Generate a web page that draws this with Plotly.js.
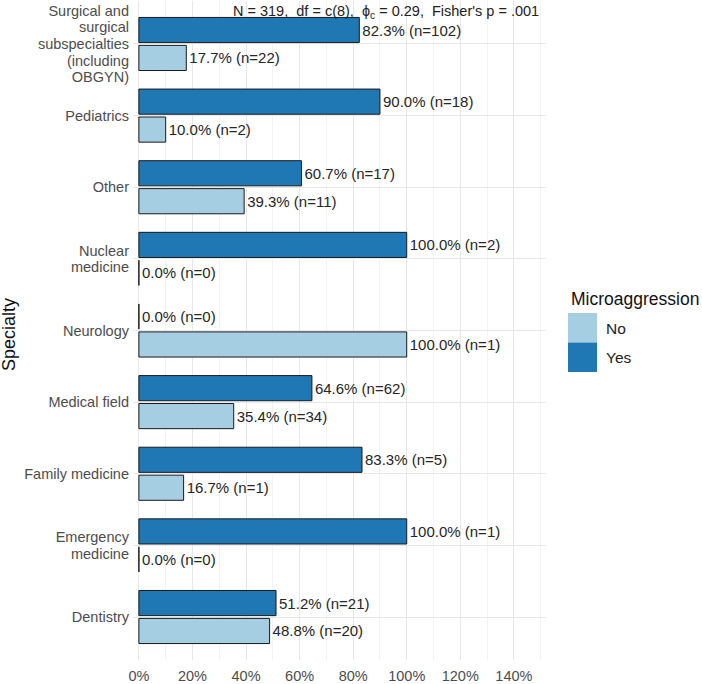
<!DOCTYPE html>
<html>
<head>
<meta charset="utf-8">
<script src="https://cdn.plot.ly/plotly-3.0.1.min.js"></script>
<style>html,body{margin:0;padding:0;background:#fff;}#chart{width:702px;height:684px;}</style>
</head>
<body>
<div id="chart"></div>
<script>
const specialties = [
  "Dentistry",
  "Emergency<br>medicine",
  "Family medicine",
  "Medical field",
  "Neurology",
  "Nuclear<br>medicine",
  "Other",
  "Pediatrics",
  "Surgical and<br>surgical<br>subspecialties<br>(including<br>OBGYN)"
];
const pctYes = [51.2, 100.0, 83.3, 64.6, 0.0, 100.0, 60.7, 90.0, 82.3];
const nYes   = [21, 1, 5, 62, 0, 2, 17, 18, 102];
const pctNo  = [48.8, 0.0, 16.7, 35.4, 100.0, 0.0, 39.3, 10.0, 17.7];
const nNo    = [20, 0, 1, 34, 1, 0, 11, 2, 22];
const groups = ["No", "Yes"];
const colors = {No: "#a6cee3", Yes: "#1f78b4"};
const xTicks = [0, 20, 40, 60, 80, 100, 120, 140];
const subtitle = "N = 319,  df = c(8),  ϕ<sub>c</sub> = 0.29,  Fisher's p = .001";

const FONT = "Liberation Sans, Arial, sans-serif";
const W = 702, H = 684;
const M = {l: 133, r: 156, t: 1, b: 24};
const PW = W - M.l - M.r, PH = H - M.t - M.b;
const px = p => (p - M.l) / PW;          // pixel x -> paper x
const py = p => (H - M.b - p) / PH;      // pixel y -> paper y

function labels(p, n) { return p.map((v, i) => v.toFixed(1) + "% (n=" + n[i] + ")"); }

const mk = (name, pct, n) => ({
  type: "bar", orientation: "h", name: name, showlegend: false,
  x: pct, y: specialties,
  text: labels(pct, n), textposition: "outside", cliponaxis: false,
  constraintext: "none",
  textfont: {family: FONT, size: 15, color: "#262626"},
  marker: {color: colors[name], line: {color: "#1a1a1a", width: 1}},
  hoverinfo: "skip"
});

const data = [mk("No", pctNo, nNo), mk("Yes", pctYes, nYes)];

// legend (drawn as key boxes + labels)
const shapes = [], annotations = [];
groups.forEach((g, i) => {
  const top = 313 + i * 29.5;
  shapes.push({type: "rect", xref: "paper", yref: "paper",
    x0: px(568), x1: px(597), y0: py(top + 29.5), y1: py(top),
    fillcolor: colors[g], line: {width: 0}, layer: "above"});
  annotations.push({xref: "paper", yref: "paper", x: px(604), y: py(top + 15),
    xanchor: "left", yanchor: "middle", showarrow: false, text: g,
    font: {family: FONT, size: 15.5, color: "#222"}});
});
annotations.push({xref: "paper", yref: "paper", x: px(569), y: py(299),
  xanchor: "left", yanchor: "middle", showarrow: false, text: "Microaggression",
  font: {family: FONT, size: 17.5, color: "#111"}});
annotations.push({xref: "paper", yref: "paper", x: px(9), y: py(334),
  xanchor: "center", yanchor: "middle", textangle: -90, showarrow: false, text: "Specialty",
  font: {family: FONT, size: 18, color: "#111"}});
annotations.push({xref: "paper", yref: "paper", x: 1, y: 1, xanchor: "right", yanchor: "top",
  xshift: -5, yshift: 0, showarrow: false, text: subtitle,
  font: {family: FONT, size: 14.5, color: "#222"}});

const layout = {
  width: W, height: H, margin: M,
  paper_bgcolor: "#fff", plot_bgcolor: "#fff",
  barmode: "group", bargap: 0.22, bargroupgap: 0.1,
  showlegend: false,
  font: {family: FONT, size: 14, color: "#222"},
  xaxis: {
    range: [-2.2, 152], tickvals: xTicks, ticktext: xTicks.map(v => v + "%"),
    showgrid: true, gridcolor: "#e8e8e8", gridwidth: 1,
    minor: {dtick: 10, tick0: 0, showgrid: true, gridcolor: "#f3f3f3", gridwidth: 1},
    zeroline: false, showline: false, ticks: "", ticklabelstandoff: 5,
    tickfont: {family: FONT, size: 14.5, color: "#4d4d4d"}
  },
  yaxis: {
    type: "category", range: [-0.6, 8.6],
    showgrid: true, gridcolor: "#e8e8e8", gridwidth: 1,
    zeroline: false, showline: false, ticks: "", ticklabelstandoff: 3,
    tickfont: {family: FONT, size: 14.5, color: "#4d4d4d"}
  },
  shapes: shapes,
  annotations: annotations
};

Plotly.newPlot("chart", data, layout, {displayModeBar: false, staticPlot: true}).then(gd => {
  // tighten line spacing of multi-line category labels
  const L = 1.15, DEF = 1.3;
  gd.querySelectorAll(".ytick text").forEach(t => {
    const lines = t.querySelectorAll("tspan.line");
    if (lines.length < 2) return;
    const n = lines.length;
    lines.forEach(ln => {
      const dy = parseFloat(ln.getAttribute("dy")) || 0;
      const i = Math.round(dy / DEF);
      ln.setAttribute("dy", (i * L + (n - 1) * (DEF - L) / 2) + "em");
    });
  });
});
</script>
</body>
</html>
